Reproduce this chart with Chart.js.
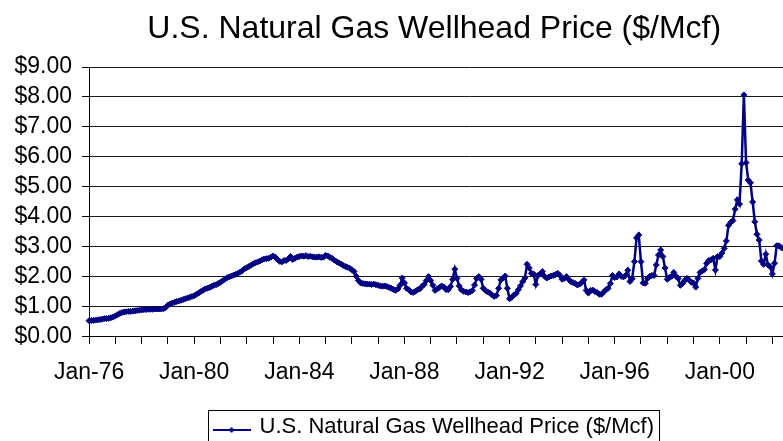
<!DOCTYPE html>
<html>
<head>
<meta charset="utf-8">
<script src="https://cdn.jsdelivr.net/npm/chart.js@4/dist/chart.umd.min.js"></script>
<style>
  html, body { margin: 0; padding: 0; background: #fff; }
  #wrap { width: 783px; height: 441px; overflow: hidden; position: relative; }
  canvas { display: block; }
</style>
</head>
<body>
<div id="wrap"><canvas id="chart" width="864" height="448"></canvas></div>
<script>
const chartTitle = 'U.S. Natural Gas Wellhead Price ($/Mcf)';
const seriesName = 'U.S. Natural Gas Wellhead Price ($/Mcf)';

// category axis: one label per month
const monthNames = ['Jan', 'Feb', 'Mar', 'Apr', 'May', 'Jun', 'Jul', 'Aug', 'Sep', 'Oct', 'Nov', 'Dec'];
const firstYear = 1976;
const lastYear = 2004;
const months = [];
for (let y = firstYear; y <= lastYear; y++) {
    monthNames.forEach((m) => months.push(m + '-' + String(y).slice(2)));
}

const tickLabels = ['Jan-76', 'Jan-80', 'Jan-84', 'Jan-88', 'Jan-92', 'Jan-96', 'Jan-00'];
const yTicks = [0, 1, 2, 3, 4, 5, 6, 7, 8, 9];

// monthly wellhead price, $/Mcf (one row per year)
const prices = [
    0.54, 0.55, 0.55, 0.56, 0.57, 0.58, 0.59, 0.61, 0.61, 0.62, 0.64, 0.66, // 1976
    0.70, 0.74, 0.78, 0.81, 0.83, 0.84, 0.85, 0.85, 0.86, 0.87, 0.88, 0.89, // 1977
    0.90, 0.91, 0.91, 0.92, 0.92, 0.92, 0.93, 0.93, 0.93, 0.93, 0.94, 0.98, // 1978
    1.06, 1.10, 1.13, 1.15, 1.18, 1.20, 1.22, 1.25, 1.27, 1.30, 1.32, 1.35, // 1979
    1.37, 1.42, 1.46, 1.51, 1.55, 1.60, 1.62, 1.65, 1.68, 1.72, 1.74, 1.78, // 1980
    1.82, 1.87, 1.92, 1.97, 2.00, 2.03, 2.06, 2.09, 2.12, 2.16, 2.21, 2.27, // 1981
    2.31, 2.35, 2.39, 2.44, 2.47, 2.50, 2.53, 2.57, 2.60, 2.61, 2.62, 2.66, // 1982
    2.70, 2.66, 2.58, 2.52, 2.50, 2.55, 2.55, 2.60, 2.68, 2.58, 2.62, 2.66, // 1983
    2.68, 2.70, 2.69, 2.71, 2.68, 2.69, 2.67, 2.66, 2.66, 2.67, 2.65, 2.66, // 1984
    2.72, 2.70, 2.65, 2.62, 2.56, 2.51, 2.47, 2.43, 2.38, 2.35, 2.32, 2.29, // 1985
    2.24, 2.18, 2.02, 1.88, 1.80, 1.78, 1.77, 1.76, 1.76, 1.75, 1.76, 1.74, // 1986
    1.72, 1.70, 1.69, 1.70, 1.68, 1.65, 1.62, 1.58, 1.55, 1.60, 1.72, 1.96, // 1987
    1.80, 1.62, 1.57, 1.50, 1.48, 1.52, 1.57, 1.60, 1.68, 1.75, 1.88, 2.01, // 1988
    1.88, 1.72, 1.55, 1.60, 1.65, 1.70, 1.66, 1.58, 1.57, 1.68, 1.92, 2.26, // 1989
    1.95, 1.70, 1.57, 1.52, 1.50, 1.48, 1.50, 1.55, 1.73, 1.95, 2.01, 1.92, // 1990
    1.62, 1.55, 1.50, 1.46, 1.40, 1.35, 1.38, 1.62, 1.90, 1.96, 2.03, 1.62, // 1991
    1.27, 1.32, 1.40, 1.45, 1.57, 1.70, 1.84, 1.96, 2.42, 2.30, 2.12, 2.10, // 1992
    1.75, 2.05, 2.10, 2.18, 2.02, 1.96, 2.00, 2.03, 2.05, 2.08, 2.12, 2.05, // 1993
    1.92, 1.95, 2.01, 1.92, 1.84, 1.81, 1.78, 1.73, 1.76, 1.82, 1.90, 1.55, // 1994
    1.46, 1.55, 1.56, 1.51, 1.48, 1.42, 1.42, 1.50, 1.57, 1.62, 1.78, 2.05, // 1995
    1.98, 2.00, 2.10, 2.02, 2.00, 2.05, 2.22, 1.85, 1.94, 2.51, 3.30, 3.40, // 1996
    2.51, 1.80, 1.79, 1.95, 2.02, 2.05, 2.05, 2.40, 2.73, 2.90, 2.68, 2.30, // 1997
    1.92, 1.98, 2.02, 2.15, 2.02, 1.95, 1.72, 1.78, 1.88, 1.95, 1.90, 1.82, // 1998
    1.80, 1.66, 1.95, 2.15, 2.20, 2.25, 2.45, 2.55, 2.57, 2.62, 2.23, 2.68, // 1999
    2.68, 2.80, 2.95, 3.20, 3.72, 3.82, 3.88, 4.26, 4.57, 4.43, 5.77, 8.07, // 2000
    5.81, 5.23, 5.14, 4.50, 3.84, 3.42, 3.23, 2.53, 2.42, 2.76, 2.40, 2.34, // 2001
    2.10, 2.46, 3.04, 3.04, 2.98, 2.95,                                     // 2002
];

const navy = '#000080';
const font = 'Liberation Sans, Arial, sans-serif';

// legend sample: short line with a diamond marker
function makeSwatch() {
    const c = document.createElement('canvas');
    c.width = 38;
    c.height = 14;
    const g = c.getContext('2d');
    g.strokeStyle = navy;
    g.lineWidth = 2;
    g.beginPath();
    g.moveTo(0, 10);
    g.lineTo(38, 10);
    g.stroke();
    g.fillStyle = navy;
    g.beginPath();
    g.moveTo(19, 7);
    g.lineTo(22, 10);
    g.lineTo(19, 13);
    g.lineTo(16, 10);
    g.closePath();
    g.fill();
    return c;
}
const swatch = makeSwatch();

// box round the legend, as in the original
const legendBorder = {
    id: 'legendBorder',
    afterDraw(chart) {
        const hb = chart.legend && chart.legend.legendHitBoxes[0];
        if (!hb) return;
        const ctx = chart.ctx;
        const midY = hb.top + hb.height / 2;
        const left = Math.round(hb.left - 7) + 0.5;
        const right = Math.round(hb.left + hb.width + 5) + 0.5;
        const top = Math.round(midY - 17) + 0.5;
        ctx.save();
        ctx.strokeStyle = '#000';
        ctx.lineWidth = 1;
        ctx.strokeRect(left, top, right - left, chart.height + 10 - top);
        ctx.restore();
    },
};

new Chart(document.getElementById('chart'), {
    type: 'line',
    data: {
        labels: months,
        datasets: [
            {
                label: seriesName,
                data: prices,
                borderColor: navy,
                backgroundColor: navy,
                borderWidth: 2.5,
                pointStyle: 'rectRot',
                pointRadius: 3,
                pointBorderWidth: 1,
                pointBackgroundColor: navy,
                pointBorderColor: navy,
                tension: 0,
                fill: false,
            },
        ],
    },
    options: {
        responsive: false,
        animation: false,
        devicePixelRatio: 1,
        layout: { padding: { left: 4.5, right: 0, top: 0, bottom: 0 } },
        plugins: {
            title: {
                display: true,
                text: chartTitle,
                color: '#000',
                font: { family: font, size: 32, weight: 'normal' },
                padding: { top: 10, bottom: 18.6 },
            },
            legend: {
                display: true,
                position: 'bottom',
                labels: {
                    usePointStyle: true,
                    pointStyleWidth: 34,
                    padding: 14.5,
                    color: '#000',
                    font: { family: font, size: 22 },
                    generateLabels: () => [
                        {
                            text: seriesName,
                            pointStyle: swatch,
                            fillStyle: navy,
                            strokeStyle: navy,
                            lineWidth: 0,
                            hidden: false,
                            datasetIndex: 0,
                            fontColor: '#000',
                        },
                    ],
                },
            },
            tooltip: { enabled: false },
        },
        scales: {
            x: {
                type: 'category',
                grid: {
                    drawOnChartArea: false,
                    drawTicks: true,
                    tickLength: 7,
                    tickColor: (ctx) => (ctx.index % 12 === 0 ? '#000' : 'rgba(0,0,0,0)'),
                },
                border: { display: true, color: '#000', width: 1 },
                ticks: {
                    autoSkip: false,
                    maxRotation: 0,
                    minRotation: 0,
                    padding: 15,
                    color: '#000',
                    font: { family: font, size: 23 },
                    callback: (val, idx) => (tickLabels.includes(months[idx]) ? months[idx] : ''),
                },
            },
            y: {
                min: yTicks[0],
                max: yTicks[yTicks.length - 1],
                afterBuildTicks: (scale) => {
                    scale.ticks = yTicks.map((v) => ({ value: v }));
                },
                grid: {
                    color: '#1a1a1a',
                    lineWidth: 1,
                    tickLength: 7,
                    tickColor: '#000',
                },
                border: { display: true, color: '#000', width: 1 },
                ticks: {
                    autoSkip: false,
                    stepSize: 1,
                    maxTicksLimit: 20,
                    padding: 10,
                    color: '#000',
                    font: { family: font, size: 23 },
                    callback: (v) => '$' + v.toFixed(2),
                },
            },
        },
    },
    plugins: [legendBorder],
});
</script>
</body>
</html>
